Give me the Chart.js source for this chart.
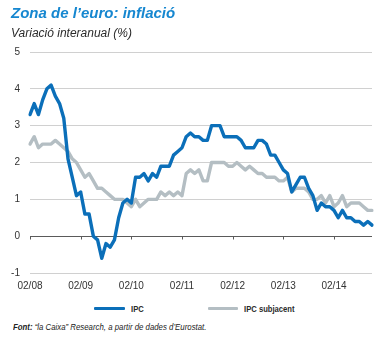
<!DOCTYPE html>
<html>
<head>
<meta charset="utf-8">
<script src="https://cdn.jsdelivr.net/npm/chart.js@4/dist/chart.umd.min.js"></script>
<style>
  html, body { margin: 0; padding: 0; background: #ffffff; }
  #wrap { position: relative; width: 381px; height: 338px; overflow: hidden; font-family: "Liberation Sans", Arial, sans-serif; }
  #chart { position: absolute; left: 0; top: 0; }
  .title { position: absolute; left: 11px; top: 4px; font: italic 700 15px "Liberation Sans", Arial, sans-serif; color: #1687d0; white-space: nowrap; }
  .subtitle { position: absolute; left: 11px; top: 26px; font: italic 400 12px "Liberation Sans", Arial, sans-serif; color: #2b2b2b; white-space: nowrap; }
  .legend { position: absolute; top: 302px; left: 0; width: 381px; height: 14px; }
  .swatch { position: absolute; top: 5px; height: 3px; border-radius: 1px; }
  .ltext { position: absolute; top: 0; font: 700 8.5px "Liberation Sans", Arial, sans-serif; color: #2a2a2a; white-space: nowrap; line-height: 14px; transform: scaleX(0.9); transform-origin: left center; }
  .source { position: absolute; left: 13px; top: 322px; font: italic 400 8.5px "Liberation Sans", Arial, sans-serif; color: #222; white-space: nowrap; transform: scaleX(0.92); transform-origin: left center; }
  .source b { font-weight: 700; }
</style>
</head>
<body>
<div id="wrap">
  <canvas id="chart" width="381" height="300"></canvas>
  <div class="title">Zona de l’euro: inflació</div>
  <div class="subtitle">Variació interanual (%)</div>
  <div class="legend">
    <div class="swatch" id="sw0" style="left:94px;width:31px;"></div>
    <div class="ltext" id="lt0" style="left:131px;"></div>
    <div class="swatch" id="sw1" style="left:208px;width:30px;"></div>
    <div class="ltext" id="lt1" style="left:244px;"></div>
  </div>
  <div class="source"><b>Font:</b> “la Caixa” Research, a partir de dades d’Eurostat.</div>
</div>
<script>
// Monthly series, February 2008 – November 2014
const startYear = 2008;
const startMonth = 2;
const monthCount = 82;

// Headline HICP, year-on-year change (%)
const ipc = [
  3.3, 3.6, 3.3, 3.7, 4.0, 4.1, 3.8, 3.6, 3.2, 2.1, 1.6,            // 2008 (Feb–Dec)
  1.1, 1.2, 0.6, 0.6, 0.0, -0.1, -0.6, -0.2, -0.3, -0.1, 0.5, 0.9,  // 2009
  1.0, 0.9, 1.6, 1.6, 1.7, 1.5, 1.7, 1.6, 1.9, 1.9, 1.9, 2.2,       // 2010
  2.3, 2.4, 2.7, 2.8, 2.7, 2.7, 2.6, 2.6, 3.0, 3.0, 3.0, 2.7,       // 2011
  2.7, 2.7, 2.7, 2.6, 2.4, 2.4, 2.4, 2.6, 2.6, 2.5, 2.2, 2.2,       // 2012
  2.0, 1.8, 1.7, 1.2, 1.4, 1.6, 1.6, 1.3, 1.1, 0.7, 0.9, 0.8,       // 2013
  0.8, 0.7, 0.5, 0.7, 0.5, 0.5, 0.4, 0.4, 0.3, 0.4, 0.3             // 2014 (Jan–Nov)
];

// Core HICP, year-on-year change (%)
const ipcSubjacent = [
  2.5, 2.7, 2.4, 2.5, 2.5, 2.5, 2.6, 2.5, 2.4, 2.3, 2.1,            // 2008 (Feb–Dec)
  2.0, 1.8, 1.6, 1.7, 1.5, 1.3, 1.3, 1.2, 1.1, 1.0, 1.0, 1.0,       // 2009
  0.9, 0.8, 1.0, 0.8, 0.9, 1.0, 1.0, 1.0, 1.2, 1.1, 1.2, 1.1,       // 2010
  1.2, 1.1, 1.7, 1.8, 1.7, 1.8, 1.5, 1.5, 2.0, 2.0, 2.0, 2.0,       // 2011
  1.9, 1.9, 2.0, 1.9, 1.8, 1.9, 1.8, 1.7, 1.7, 1.6, 1.6, 1.6,       // 2012
  1.5, 1.5, 1.6, 1.2, 1.3, 1.3, 1.3, 1.2, 1.0, 1.0, 1.1, 0.9,       // 2013
  1.1, 0.8, 0.9, 1.1, 0.8, 0.9, 0.9, 0.9, 0.8, 0.7, 0.7             // 2014 (Jan–Nov)
];

const seriesNames = ['IPC', 'IPC subjacent'];
const seriesColors = ['#0b6fb9', '#b4bec3'];
const yTicks = [-1, 0, 1, 2, 3, 4, 5];

// Month labels "MM/YY"
const months = [];
for (let k = 0; k < monthCount; k++) {
  const m = (startMonth - 1 + k) % 12 + 1;
  const y = startYear + Math.floor((startMonth - 1 + k) / 12);
  months.push(String(m).padStart(2, '0') + '/' + String(y % 100).padStart(2, '0'));
}

// HTML legend
seriesNames.forEach((name, i) => {
  document.getElementById('sw' + i).style.background = seriesColors[i];
  document.getElementById('lt' + i).textContent = name;
});

// Short downward ticks on the zero line at each yearly label
const zeroTicks = {
  id: 'zeroTicks',
  afterDraw(chart) {
    const { ctx, scales } = chart;
    const y0 = Math.round(scales.y.getPixelForValue(0)) + 0.5;
    ctx.save();
    ctx.strokeStyle = '#5a5a5a';
    ctx.lineWidth = 1;
    ctx.beginPath();
    for (let k = 0; k < monthCount; k += 12) {
      const x = Math.round(scales.x.getPixelForValue(k)) + 0.5;
      ctx.moveTo(x, y0);
      ctx.lineTo(x, y0 + 3);
    }
    ctx.stroke();
    ctx.restore();
  }
};

Chart.defaults.font.family = '"Liberation Sans", Arial, sans-serif';

new Chart(document.getElementById('chart'), {
  type: 'line',
  data: {
    labels: months,
    datasets: [
      {
        label: seriesNames[0],
        data: ipc,
        borderColor: seriesColors[0],
        backgroundColor: seriesColors[0],
        borderWidth: 3.4,
        pointRadius: 0,
        tension: 0,
        borderJoinStyle: 'round',
        borderCapStyle: 'round'
      },
      {
        label: seriesNames[1],
        data: ipcSubjacent,
        borderColor: seriesColors[1],
        backgroundColor: seriesColors[1],
        borderWidth: 3.4,
        pointRadius: 0,
        tension: 0,
        borderJoinStyle: 'round',
        borderCapStyle: 'round'
      }
    ]
  },
  options: {
    responsive: false,
    animation: false,
    devicePixelRatio: 1,
    layout: { padding: { left: 0, right: 9, top: 52, bottom: 0 } },
    plugins: {
      legend: { display: false },
      tooltip: { enabled: false },
      title: { display: false }
    },
    scales: {
      x: {
        type: 'category',
        offset: false,
        grid: { display: false, drawTicks: false },
        border: { display: false },
        ticks: {
          autoSkip: false,
          maxRotation: 0,
          minRotation: 0,
          padding: 7,
          color: '#333333',
          font: { size: 10 },
          callback: function (value, index) {
            return index % 12 === 0 ? this.getLabelForValue(value) : null;
          }
        },
        afterFit: (scale) => { scale.height = 27; }
      },
      y: {
        min: yTicks[0],
        max: yTicks[yTicks.length - 1],
        afterBuildTicks: (scale) => { scale.ticks = yTicks.map(v => ({ value: v })); },
        grid: {
          drawTicks: false,
          color: (c) => c.tick && c.tick.value === 0 ? '#5a5a5a' : '#d0d0d0',
          lineWidth: 1
        },
        border: { display: false },
        ticks: {
          padding: 10,
          color: '#333333',
          font: { size: 10 }
        },
        afterFit: (scale) => { scale.width = 30; }
      }
    }
  },
  plugins: [zeroTicks]
});
</script>
</body>
</html>
